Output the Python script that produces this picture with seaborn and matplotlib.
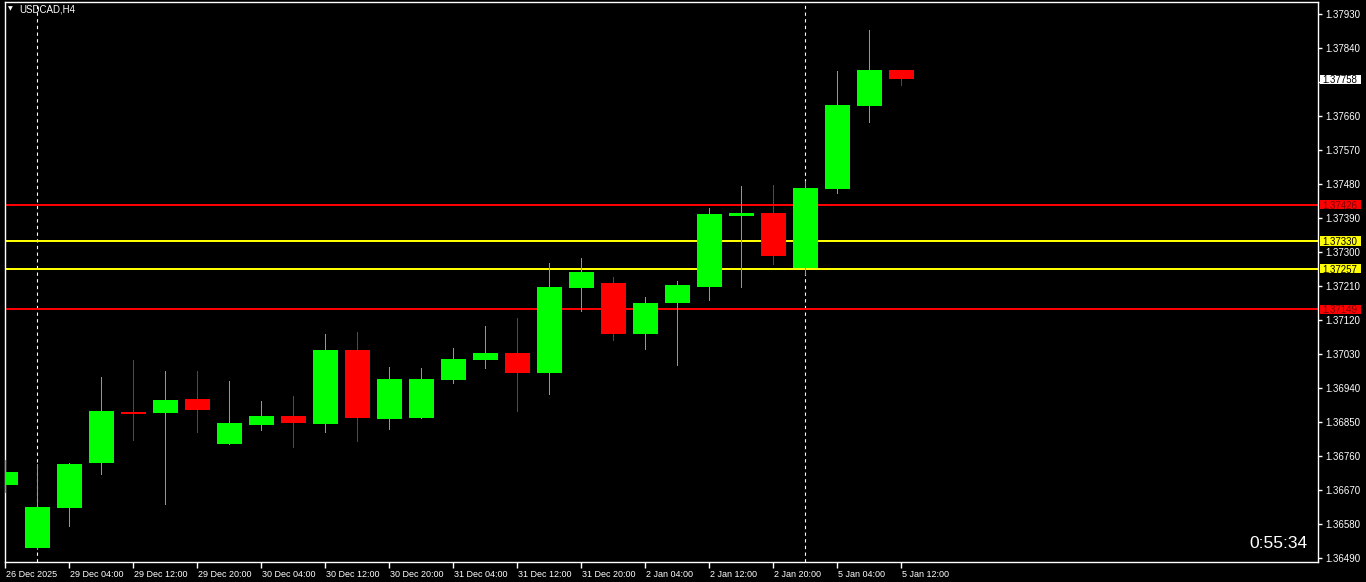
import numpy as np
import pandas as pd
import seaborn as sns
import matplotlib
matplotlib.use("Agg")
import matplotlib.pyplot as plt
import matplotlib.transforms as mtransforms
from matplotlib.patches import Rectangle

# USDCAD H4 bars, 26 Dec 20:00 -> 5 Jan 12:00 (no bars on 1 Jan)
bar_time = ["26 Dec 20:00", "29 Dec 00:00", "29 Dec 04:00", "29 Dec 08:00", "29 Dec 12:00",
            "29 Dec 16:00", "29 Dec 20:00", "30 Dec 00:00", "30 Dec 04:00", "30 Dec 08:00",
            "30 Dec 12:00", "30 Dec 16:00", "30 Dec 20:00", "31 Dec 00:00", "31 Dec 04:00",
            "31 Dec 08:00", "31 Dec 12:00", "31 Dec 16:00", "31 Dec 20:00", "2 Jan 00:00",
            "2 Jan 04:00", "2 Jan 08:00", "2 Jan 12:00", "2 Jan 16:00", "2 Jan 20:00",
            "5 Jan 00:00", "5 Jan 04:00", "5 Jan 08:00", "5 Jan 12:00"]
open_p = [1.36685, 1.36517, 1.36624, 1.36741, 1.36877, 1.36875, 1.36912, 1.36793, 1.36843, 1.36867,
          1.36846, 1.37041, 1.36859, 1.36862, 1.36962, 1.37015, 1.37033, 1.36981, 1.37206, 1.37219,
          1.37084, 1.37166, 1.37208, 1.37396, 1.37404, 1.37258, 1.37468, 1.37687, 1.37783]
high_p = [1.36750, 1.36740, 1.36742, 1.36970, 1.37015, 1.36986, 1.36986, 1.36959, 1.36906, 1.36920,
          1.37084, 1.37089, 1.36996, 1.36994, 1.37047, 1.37105, 1.37126, 1.37272, 1.37285, 1.37235,
          1.37182, 1.37224, 1.37417, 1.37476, 1.37478, 1.37489, 1.37780, 1.37888, 1.37783]
low_p = [1.36666, 1.36515, 1.36574, 1.36714, 1.36803, 1.36634, 1.36824, 1.36793, 1.36830, 1.36785,
         1.36824, 1.36801, 1.36832, 1.36860, 1.36954, 1.36994, 1.36880, 1.36925, 1.37145, 1.37068,
         1.37044, 1.37002, 1.37174, 1.37208, 1.37269, 1.37243, 1.37457, 1.37645, 1.37743]
close_p = [1.36719, 1.36626, 1.36740, 1.36880, 1.36872, 1.36909, 1.36883, 1.36848, 1.36867, 1.36848,
           1.37041, 1.36862, 1.36965, 1.36965, 1.37018, 1.37033, 1.36981, 1.37208, 1.37248, 1.37084,
           1.37166, 1.37214, 1.37401, 1.37404, 1.37290, 1.37470, 1.37690, 1.37783, 1.37758]

# horizontal levels drawn on the chart
levels = [1.37426, 1.37330, 1.37257, 1.37149]
level_colors = ["#ff0000", "#ffff00", "#ffff00", "#ff0000"]
level_text = ["#7a0000", "#000000", "#000000", "#7a0000"]
bid_price = 1.37758

ytick_values = [1.37930, 1.37840, 1.37750, 1.37660, 1.37570, 1.37480, 1.37390, 1.37300, 1.37210,
                1.37120, 1.37030, 1.36940, 1.36850, 1.36760, 1.36670, 1.36580, 1.36490]
xtick_bars = [0, 2, 4, 6, 8, 10, 12, 14, 16, 18, 20, 22, 24, 26, 28]
xtick_labels = ["26 Dec 2025", "29 Dec 04:00", "29 Dec 12:00", "29 Dec 20:00", "30 Dec 04:00",
                "30 Dec 12:00", "30 Dec 20:00", "31 Dec 04:00", "31 Dec 12:00", "31 Dec 20:00",
                "2 Jan 04:00", "2 Jan 12:00", "2 Jan 20:00", "5 Jan 04:00", "5 Jan 12:00"]
week_starts = [1, 25]  # 29 Dec 00:00 and 5 Jan 00:00
timer = "0:55:34"

sns.set_theme(style="dark", rc={"axes.facecolor": "black", "figure.facecolor": "black"})
plt.rcParams["font.family"] = ["Liberation Sans", "DejaVu Sans"]

df = pd.DataFrame({"time": bar_time, "open": open_p, "high": high_p, "low": low_p, "close": close_p})
df["x"] = np.arange(len(df))
df["up"] = df["close"] >= df["open"]
df["color"] = np.where(df["up"], "#00ff00", "#ff0000")
df["bottom"] = df[["open", "close"]].min(axis=1)
df["body"] = (df["close"] - df["open"]).abs().clip(lower=0.00003)

W, H = 1366, 582
fig = plt.figure(figsize=(W / 100, H / 100), dpi=100, facecolor="black")
ax = fig.add_axes([5 / W, 1 - 562 / H, (1318 - 5) / W, (562 - 1.5) / H])
ax.set_facecolor("black")

# wicks and bodies
ax.vlines(df["x"], df["low"], df["high"], colors=df["color"], lw=0.72, antialiased=False, zorder=3)
ax.bar(df["x"], df["body"], bottom=df["bottom"], width=0.78, color=df["color"],
       linewidth=0, antialiased=False, zorder=4)

for lv, c in zip(levels, level_colors):
    ax.axhline(lv, color=c, lw=1.2, antialiased=False, zorder=2)

for w in week_starts:
    ax.axvline(w, color="white", lw=0.8, ls=(0, (3, 3)), zorder=1)

ax.set_xlim(-0.0156, 41.02)
ax.set_ylim(1.36480, 1.37964)

for s in ax.spines.values():
    s.set_color("white")
    s.set_linewidth(1)
    s.set_visible(True)

ax.grid(False)
ax.yaxis.tick_right()
ax.set_yticks(ytick_values)
# the 1.37750 label sits under the bid box, as in the terminal
ax.set_yticklabels(["" if abs(v - bid_price) < 0.0002 else f"{v:.5f}" for v in ytick_values])
ax.tick_params(axis="y", colors="white", length=3, width=1, direction="out", labelsize=7, pad=2)

ax.set_xticks(xtick_bars)
ax.set_xticklabels(xtick_labels)
ax.tick_params(axis="x", colors="white", length=4, width=1, direction="out", labelsize=6.5, pad=2,
               bottom=True)
offset = mtransforms.ScaledTranslation(1 / 100, 0, fig.dpi_scale_trans)
for lab in ax.get_xticklabels():
    lab.set_ha("left")
    lab.set_transform(lab.get_transform() + offset)

# price boxes on the right axis
btrans = mtransforms.blended_transform_factory(fig.transFigure, ax.transData)
box_h = 9.5 / 37770
for lv, fc, tc in list(zip(levels, level_colors, level_text)) + [(bid_price, "#ffffff", "#000000")]:
    ax.add_patch(Rectangle((1320 / W, lv - box_h / 2), 41 / W, box_h, transform=btrans,
                           facecolor=fc, edgecolor="none", clip_on=False, zorder=10))
    ax.text(1322 / W, lv, f"{lv:.5f}", transform=btrans, ha="left", va="center_baseline",
            fontsize=7, color=tc, clip_on=False, zorder=11)

fig.text(8 / W, 1 - 9 / H, "\u25bc", fontsize=4.5, color="white", va="center", ha="left",
         family=["DejaVu Sans"])
fig.text(19 / W, 1 - 9 / H, "USDCAD,H4", fontsize=7, color="white", va="center", ha="left")
fig.text(1308 / W, 1 - 543 / H, timer, fontsize=12.5, color="white", va="center", ha="right")

fig.savefig("out.png", dpi=100, facecolor="black")
